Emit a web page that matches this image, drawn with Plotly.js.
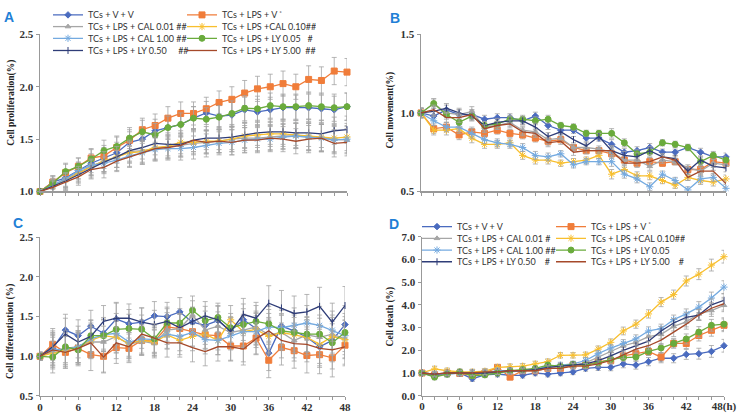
<!DOCTYPE html>
<html><head><meta charset="utf-8">
<script src="https://cdn.plot.ly/plotly-3.0.1.min.js"></script>
<style>html,body{margin:0;padding:0;background:#fff}#chart{width:746px;height:413px}</style>
</head><body><div id="chart"></div>
<script>
// ---------- data ----------
const hours = [0,2,4,6,8,10,12,14,16,18,20,22,24,26,28,30,32,34,36,38,40,42,44,46,48];
const xTickTextAB = ['','','','','','','','','','','','','','','','','','','','','','','','',''];
const xTickTextC = ['0','','','6','','','12','','','18','','','24','','','30','','','36','','','42','','','48'];
const xTickTextD = ['0','','','6','','','12','','','18','','','24','','','30','','','36','','','42','','','48(h)'];

const namesA = ['TCs + V + V','TCs + LPS + V <sup>*</sup>','TCs + LPS + CAL 0.01 ##','TCs + LPS +CAL 0.10##',
  'TCs + LPS + CAL 1.00 ##','TCs + LPS + LY 0.05\u00a0\u00a0\u00a0#','TCs + LPS + LY 0.50\u00a0\u00a0\u00a0\u00a0\u00a0##','TCs + LPS + LY 5.00\u00a0\u00a0##'];
const namesD = ['TCs + V + V','TCs + LPS + V <sup>*</sup>','TCs + LPS + CAL 0.01 #','TCs + LPS +CAL 0.10##',
  'TCs + LPS + CAL 1.00 ##','TCs + LPS + LY 0.05','TCs + LPS + LY 0.50\u00a0\u00a0\u00a0\u00a0#','TCs + LPS + LY 5.00\u00a0\u00a0\u00a0\u00a0#'];

// A: cell proliferation
const prolif_VV     = [1.00,1.09,1.13,1.20,1.27,1.32,1.37,1.47,1.50,1.58,1.61,1.64,1.70,1.75,1.72,1.73,1.78,1.76,1.78,1.80,1.80,1.80,1.79,1.78,1.81];
const prolif_LPS    = [1.00,1.09,1.18,1.24,1.32,1.34,1.42,1.49,1.59,1.63,1.70,1.745,1.745,1.79,1.85,1.88,1.94,1.98,2.00,2.03,2.00,2.07,2.06,2.15,2.14];
const prolif_CAL001 = [1.00,1.06,1.12,1.18,1.24,1.29,1.33,1.38,1.39,1.41,1.43,1.44,1.46,1.47,1.48,1.50,1.51,1.51,1.52,1.53,1.53,1.52,1.51,1.50,1.49];
const prolif_CAL010 = [1.00,1.05,1.11,1.17,1.24,1.29,1.33,1.37,1.38,1.42,1.43,1.47,1.47,1.48,1.48,1.50,1.53,1.54,1.55,1.55,1.54,1.53,1.52,1.51,1.52];
const prolif_CAL100 = [1.00,1.06,1.12,1.20,1.25,1.27,1.30,1.34,1.37,1.40,1.41,1.41,1.42,1.44,1.46,1.47,1.49,1.50,1.50,1.52,1.53,1.52,1.51,1.49,1.50];
const prolif_LY005  = [1.00,1.08,1.19,1.24,1.31,1.39,1.43,1.51,1.57,1.54,1.61,1.64,1.70,1.69,1.71,1.745,1.795,1.79,1.82,1.81,1.81,1.82,1.81,1.80,1.81];
const prolif_LY050  = [1.00,1.05,1.10,1.16,1.22,1.28,1.33,1.39,1.42,1.46,1.45,1.45,1.49,1.51,1.51,1.52,1.54,1.56,1.57,1.57,1.56,1.56,1.55,1.58,1.59];
const prolif_LY500  = [1.00,1.04,1.09,1.14,1.21,1.23,1.29,1.33,1.37,1.41,1.42,1.44,1.49,1.47,1.48,1.47,1.49,1.49,1.51,1.50,1.48,1.50,1.51,1.46,1.47];
const prolif_err    = [0.02,0.06,0.08,0.08,0.09,0.10,0.10,0.10,0.11,0.11,0.11,0.11,0.11,0.11,0.11,0.12,0.12,0.12,0.12,0.12,0.12,0.13,0.13,0.13,0.13];

// B: cell movement
const move_VV     = [1.00,0.98,1.02,0.99,0.99,0.96,0.97,0.97,0.95,0.98,0.92,0.89,0.89,0.84,0.84,0.80,0.75,0.76,0.78,0.75,0.75,0.78,0.75,0.72,0.72];
const move_LPS    = [1.00,0.90,0.91,0.86,0.88,0.87,0.89,0.87,0.86,0.84,0.82,0.83,0.78,0.76,0.76,0.74,0.70,0.68,0.69,0.68,0.69,0.64,0.64,0.69,0.68];
const move_CAL001 = [1.00,1.06,1.00,0.99,1.01,0.91,0.92,0.94,0.89,0.88,0.83,0.84,0.78,0.78,0.77,0.75,0.70,0.70,0.66,0.70,0.69,0.65,0.63,0.68,0.67];
const move_CAL010 = [1.00,0.89,0.89,0.90,0.84,0.80,0.80,0.81,0.73,0.70,0.70,0.68,0.69,0.70,0.73,0.61,0.64,0.60,0.60,0.57,0.54,0.59,0.57,0.56,0.58];
const move_CAL100 = [1.00,0.95,0.91,0.91,0.87,0.83,0.81,0.80,0.78,0.73,0.72,0.74,0.67,0.69,0.69,0.69,0.61,0.58,0.53,0.61,0.57,0.51,0.58,0.59,0.52];
const move_LY005  = [1.00,1.06,0.99,0.94,0.98,0.92,0.93,0.96,0.96,0.95,0.96,0.92,0.91,0.87,0.87,0.87,0.81,0.74,0.75,0.81,0.80,0.78,0.69,0.73,0.70];
const move_LY050  = [1.00,1.01,1.03,1.00,0.98,0.92,0.94,0.95,0.95,0.91,0.85,0.88,0.83,0.79,0.85,0.76,0.73,0.72,0.76,0.72,0.71,0.63,0.70,0.66,0.65];
const move_LY500  = [1.00,1.02,0.97,0.97,0.99,0.90,0.92,0.93,0.88,0.87,0.81,0.82,0.75,0.76,0.76,0.76,0.68,0.68,0.69,0.72,0.70,0.59,0.63,0.63,0.55];
const move_err    = [0.03,0.03,0.03,0.03,0.03,0.025,0.025,0.025,0.025,0.025,0.025,0.02,0.02,0.02,0.02,0.03,0.025,0.025,0.025,0.02,0.02,0.02,0.025,0.025,0.025];

// C: cell differentiation
const diff_VV     = [1.00,1.10,1.33,1.26,1.38,1.29,1.47,1.41,1.43,1.51,1.50,1.56,1.43,1.39,1.45,1.32,1.46,1.35,1.04,1.38,1.32,1.24,1.12,1.20,1.40];
const diff_LPS    = [1.00,1.15,1.05,1.10,1.02,1.00,1.11,1.10,1.20,1.19,1.37,1.35,1.31,1.27,1.26,1.13,1.13,1.23,0.95,1.11,1.07,1.01,1.02,0.98,1.14];
const diff_CAL001 = [1.00,1.06,1.10,1.12,1.18,1.18,1.25,1.15,1.19,1.16,1.33,1.35,1.52,1.33,1.38,1.30,1.33,1.37,1.27,1.30,1.20,1.27,1.24,1.28,1.22];
const diff_CAL010 = [1.00,1.04,1.07,1.12,1.20,1.26,1.24,1.16,1.20,1.18,1.27,1.20,1.25,1.28,1.20,1.46,1.31,1.34,1.25,1.30,1.27,1.24,1.15,1.25,1.21];
const diff_CAL100 = [1.00,1.08,1.09,1.12,1.22,1.27,1.29,1.18,1.22,1.21,1.28,1.25,1.30,1.21,1.20,1.26,1.31,1.31,1.37,1.36,1.39,1.42,1.39,1.33,1.26];
const diff_LY005  = [1.00,0.99,1.12,1.08,1.26,1.26,1.34,1.35,1.34,1.22,1.42,1.42,1.58,1.45,1.49,1.36,1.40,1.44,1.41,1.32,1.30,1.28,1.28,1.17,1.30];
const diff_LY050  = [1.00,1.12,1.28,1.18,1.25,1.44,1.48,1.48,1.43,1.40,1.44,1.36,1.44,1.51,1.46,1.31,1.53,1.48,1.67,1.61,1.54,1.56,1.63,1.43,1.64];
const diff_LY500  = [1.00,1.08,1.05,1.10,1.17,0.99,1.17,1.12,1.28,1.23,1.17,1.17,1.11,1.06,1.12,1.12,1.09,1.22,1.32,1.20,1.16,1.15,1.10,1.08,1.12];
const diff_err    = [0.05,0.20,0.20,0.20,0.20,0.20,0.20,0.18,0.18,0.18,0.18,0.18,0.18,0.18,0.18,0.18,0.20,0.20,0.22,0.22,0.22,0.22,0.24,0.24,0.24];

// D: cell death
const death_VV     = [1.00,0.85,1.00,1.00,0.75,0.92,0.95,0.90,0.90,1.00,0.95,1.00,1.05,1.20,1.25,1.25,1.40,1.35,1.50,1.65,1.65,1.82,1.85,1.95,2.20];
const death_LPS    = [1.00,0.92,1.00,0.98,0.90,1.00,1.25,0.82,1.10,1.10,1.20,1.20,1.35,1.35,1.50,1.55,1.75,1.85,1.95,1.70,2.30,2.30,2.65,2.88,3.10];
const death_CAL001 = [1.00,0.95,0.95,1.00,1.00,1.00,1.00,1.05,1.10,1.15,1.25,1.30,1.35,1.45,1.70,1.95,2.20,2.35,2.60,2.70,3.05,3.25,3.60,3.75,3.98];
const death_CAL010 = [1.00,1.18,1.10,1.05,1.05,1.08,1.25,1.28,1.30,1.40,1.50,1.78,1.78,1.80,2.05,2.35,2.85,3.15,3.60,4.12,4.45,5.05,5.35,5.75,6.12];
const death_CAL100 = [1.00,0.95,0.95,1.00,1.00,1.00,1.10,1.10,1.10,1.15,1.30,1.35,1.40,1.55,1.85,2.10,2.30,2.50,2.85,2.95,3.35,3.60,3.90,4.30,4.78];
const death_LY005  = [1.00,0.82,0.95,1.05,0.88,0.92,1.00,1.10,1.15,1.20,1.35,1.30,1.38,1.35,1.45,1.60,1.68,1.70,1.95,2.10,2.30,2.50,2.80,3.10,3.15];
const death_LY050  = [1.00,0.95,1.00,1.00,1.00,1.00,1.05,1.10,1.10,1.15,1.25,1.30,1.35,1.40,1.55,1.75,2.00,2.20,2.40,2.85,3.20,3.45,3.55,4.00,4.20];
const death_LY500  = [1.00,0.95,1.00,1.00,1.00,1.05,1.05,1.10,1.10,1.10,1.20,1.20,1.30,1.30,1.40,1.55,1.80,2.05,2.20,2.45,2.80,3.15,3.55,3.85,4.05];
const death_err    = [0.10,0.12,0.12,0.12,0.12,0.12,0.12,0.12,0.12,0.12,0.12,0.12,0.12,0.12,0.14,0.15,0.17,0.18,0.18,0.20,0.20,0.22,0.24,0.26,0.28];

// ---------- styles ----------
const seriesStyle = [
  {color:'#4a6bbf', symbol:'diamond', size:5},
  {color:'#f07d3a', symbol:'square', size:6},
  {color:'#a6a6a6', symbol:'triangle-up', size:5},
  {color:'#f8bf2e', symbol:'asterisk-open', size:6},
  {color:'#74aae0', symbol:'asterisk-open', size:6},
  {color:'#6aab3c', symbol:'circle', size:6},
  {color:'#2f3d78', symbol:'line-ns-open', size:5},
  {color:'#a5492a', symbol:null, size:0}
];

const panels = [
  {xa:'x',  ya:'y',  series:[prolif_VV,prolif_LPS,prolif_CAL001,prolif_CAL010,prolif_CAL100,prolif_LY005,prolif_LY050,prolif_LY500], err:prolif_err, names:namesA, legendBase:1},
  {xa:'x2', ya:'y2', series:[move_VV,move_LPS,move_CAL001,move_CAL010,move_CAL100,move_LY005,move_LY050,move_LY500], err:move_err, names:namesA, legendBase:0},
  {xa:'x3', ya:'y3', series:[diff_VV,diff_LPS,diff_CAL001,diff_CAL010,diff_CAL100,diff_LY005,diff_LY050,diff_LY500], err:diff_err, names:namesA, legendBase:0},
  {xa:'x4', ya:'y4', series:[death_VV,death_LPS,death_CAL001,death_CAL010,death_CAL100,death_LY005,death_LY050,death_LY500], err:death_err, names:namesD, legendBase:5}
];

const traces = [];
panels.forEach(p => {
  p.series.forEach((vals, i) => {
    const st = seriesStyle[i];
    const t = {
      type:'scatter', x:hours, y:vals, xaxis:p.xa, yaxis:p.ya, name:p.names[i],
      mode: st.symbol ? 'lines+markers' : 'lines',
      line:{color:st.color, width:1.3},
      cliponaxis:false,
      error_y:{type:'data', array:p.err, visible:true, color:'#a3a3a3', thickness:0.8, width:2.5},
      showlegend: p.legendBase > 0
    };
    if (st.symbol) t.marker = {symbol:st.symbol, size:st.size, color:st.color, line:{color:st.color, width:1}};
    if (p.legendBase > 0) {
      const n = p.legendBase + Math.floor(i/2);
      t.legend = n === 1 ? 'legend' : 'legend' + n;
    }
    traces.push(t);
  });
});

const W = 746, H = 413;
const px = v => v / W, py = v => 1 - v / H;
const axisCommon = {showline:true, linecolor:'#999', linewidth:1.5, showgrid:false, zeroline:false,
  ticks:'outside', tickcolor:'#999', tickwidth:1, fixedrange:true};
const tickFont = {family:'Liberation Serif', size:11, weight:'bold', color:'#333'};

function xAxis(x0, x1, texts, anchor) {
  return Object.assign({}, axisCommon, {domain:[px(x0), px(x1)], range:[0,48], anchor:anchor,
    tickmode:'array', tickvals:hours, ticktext:texts, ticklen:3, ticklabelstandoff:-3, tickfont:tickFont});
}
function yAxis(y0, y1, range, dtick, anchor) {
  return Object.assign({}, axisCommon, {domain:[py(y0), py(y1)], range:range, anchor:anchor,
    dtick:dtick, tick0:range[0], tickformat:'.1f', ticklen:3, tickfont:tickFont});
}

const legendFont = {family:'Lato', size:9, color:'#333'};
function legendRow(xLeft, yc) {
  return {orientation:'h', x:px(xLeft), xanchor:'left', y:py(yc), yanchor:'middle',
    entrywidth:89, entrywidthmode:'pixels', font:legendFont, bgcolor:'rgba(0,0,0,0)',
    itemwidth:30, tracegroupgap:0, traceorder:'normal'};
}

const panelLabel = (t, x, y) => ({text:t, x:px(x), y:py(y), xref:'paper', yref:'paper', showarrow:false,
  font:{family:'Liberation Sans', size:14, weight:'bold', color:'#1f80d6'}, xanchor:'center', yanchor:'middle'});
const yTitle = (t, x, y) => ({text:t, x:px(x), y:py(y), xref:'paper', yref:'paper', showarrow:false, textangle:-90,
  font:{family:'Liberation Serif', size:9.5, weight:'bold', color:'#222'}, xanchor:'center', yanchor:'middle'});

const layout = {
  width:W, height:H, margin:{l:0, r:0, t:0, b:0},
  paper_bgcolor:'#fff', plot_bgcolor:'rgba(0,0,0,0)',
  xaxis:  xAxis(40, 347, xTickTextAB, 'y'),
  yaxis:  yAxis(186, 25, [1.0, 2.5], 0.5, 'x'),
  xaxis2: xAxis(421, 726, xTickTextAB, 'y2'),
  yaxis2: yAxis(186, 25, [0.5, 1.5], 0.5, 'x2'),
  xaxis3: xAxis(40, 345, xTickTextC, 'y3'),
  yaxis3: yAxis(395.5, 233, [0.5, 2.5], 0.5, 'x3'),
  xaxis4: xAxis(422, 724, xTickTextD, 'y4'),
  yaxis4: yAxis(395.3, 232.3, [0, 7], 1, 'x4'),
  legend:  legendRow(48, 5),
  legend2: legendRow(48, 17),
  legend3: legendRow(48, 29),
  legend4: legendRow(48, 41.5),
  legend5: legendRow(417, 222),
  legend6: legendRow(417, 234),
  legend7: legendRow(417, 246),
  legend8: legendRow(417, 258),
  annotations:[
    panelLabel('A', 9, 7), panelLabel('B', 395, 8), panelLabel('C', 18, 218), panelLabel('D', 394, 219),
    yTitle('Cell proliferation(%)', 12, 95), yTitle('Cell movement(%)', 391, 103),
    yTitle('Cell differentiation (%)', 10, 330), yTitle('Cell death (%)', 390, 314)
  ]
};
layout.xaxis.showticklabels = false;
layout.xaxis2.showticklabels = false;

Plotly.newPlot('chart', traces, layout, {displayModeBar:false, staticPlot:true});
</script></body></html>
